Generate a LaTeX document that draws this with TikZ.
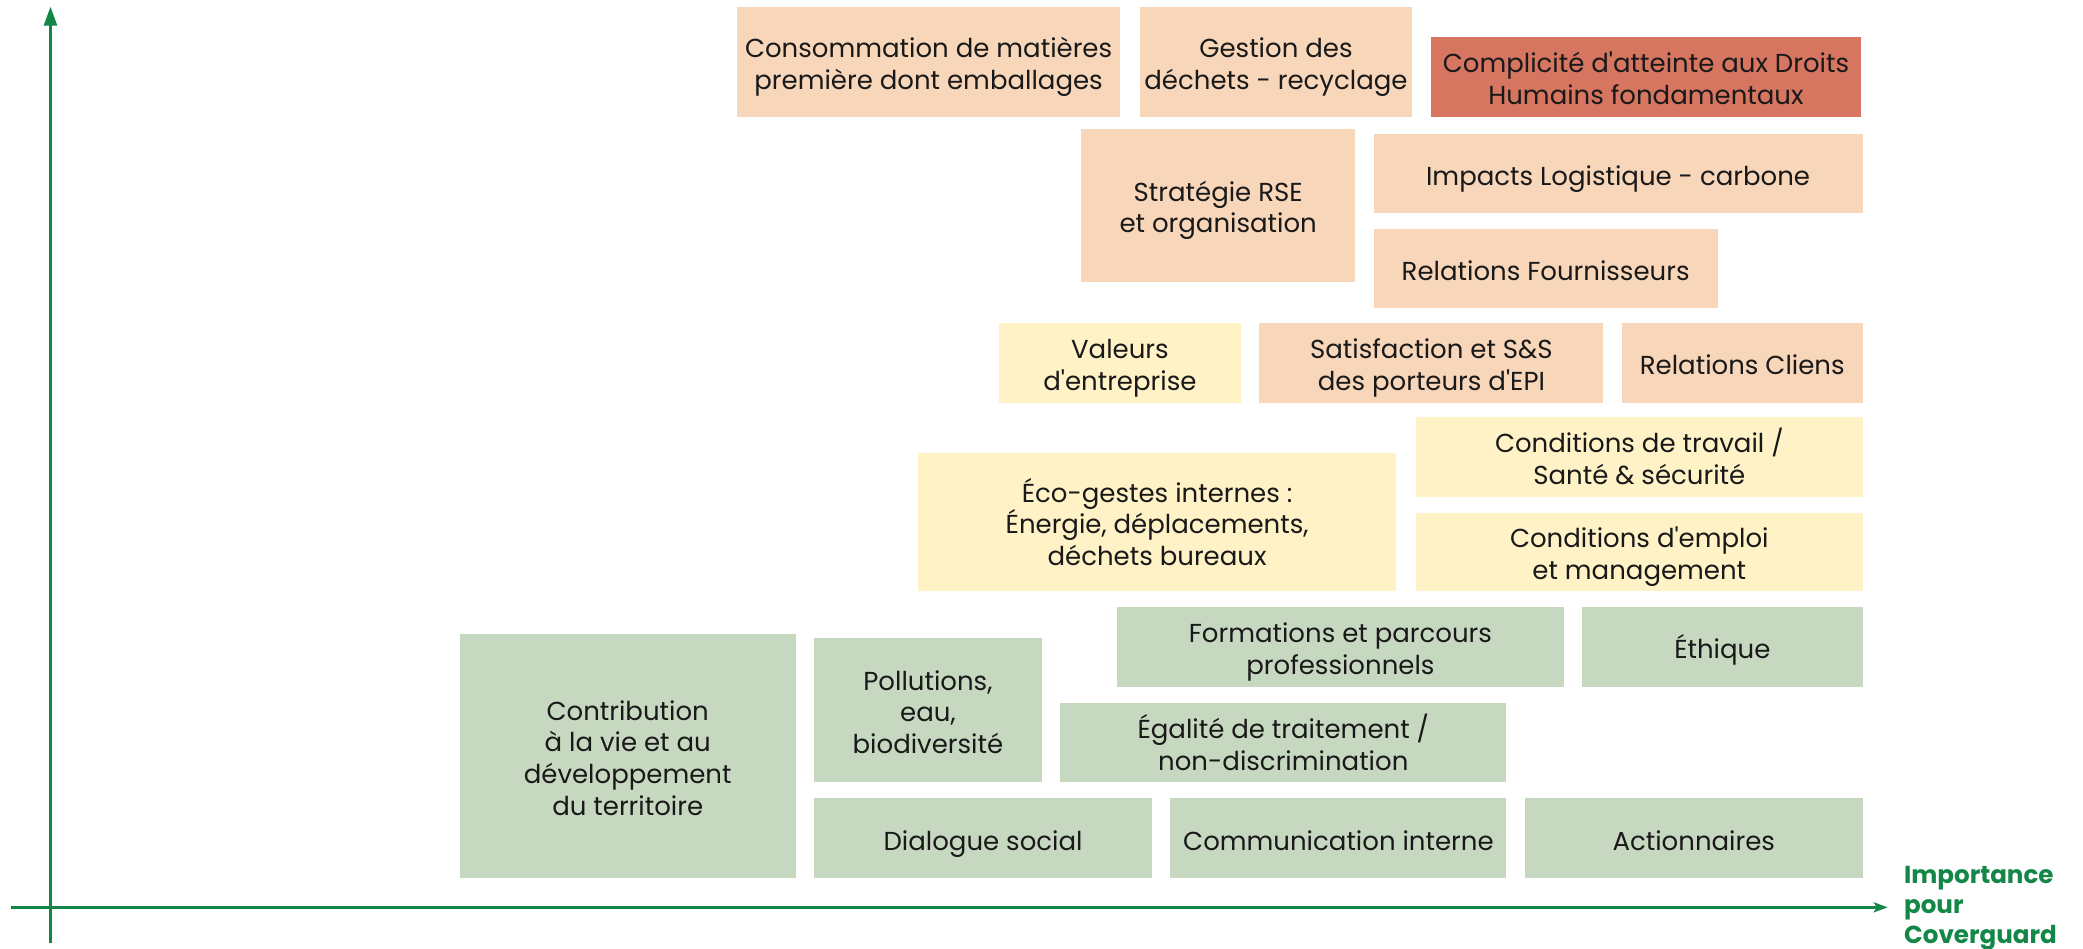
\documentclass[tikz,border=0pt]{standalone}
\usepackage{fontspec}
\setmainfont{Poppins}[Ligatures=TeXOff]
\usetikzlibrary{arrows.meta}
\definecolor{peach}{RGB}{248,214,186}
\definecolor{salmon}{RGB}{215,118,96}
\definecolor{cream}{RGB}{255,242,199}
\definecolor{sage}{RGB}{199,216,192}
\definecolor{axisgreen}{RGB}{19,135,72}
\tikzset{
  box/.style={inner sep=0pt, outer sep=0pt, draw=none, align=center,
    font=\fontsize{13}{15.9}\selectfont, text=black!90},
  axis/.style={draw=axisgreen, line width=1.35pt},
}
\newcommand\topstrut{\vrule width 0pt height 15.8pt depth 0pt\relax}
\newcommand\botstrut{\vrule width 0pt height 0pt depth 4pt\relax}
% #1 name, #2 x1, #3 y1, #4 x2, #5 y2, #6 colour, #7 text
\newcommand\mybox[7]{%
  \node[box, fill=#6, minimum width={(#4-#2)*0.6642pt}, minimum height={(#5-#3)*0.6642pt}]
    (#1) at ({(#2+#4)/2},{(#3+#5)/2}) {\topstrut #7\botstrut};}
\begin{document}
\begin{tikzpicture}[x=0.6642pt,y=-0.6642pt]
\useasboundingbox (0,0) rectangle (1568,714);
% boxes
\mybox{cons}{555}{5}{843}{88}{peach}{Consommation de matières\\première dont emballages}
\mybox{gest}{858}{5}{1063}{88}{peach}{Gestion des\\déchets - recyclage}
\mybox{comp}{1077}{28}{1401}{88}{salmon}{Complicité d'atteinte aux Droits\\Humains fondamentaux}
\mybox{rse}{814}{97}{1020}{212}{peach}{Stratégie RSE\\et organisation}
\mybox{log}{1034}{101}{1402}{160}{peach}{Impacts Logistique - carbone}
\mybox{four}{1034}{172}{1293}{232}{peach}{Relations Fournisseurs}
\mybox{val}{752}{243}{934}{303}{cream}{Valeurs\\d'entreprise}
\mybox{sat}{948}{243}{1207}{303}{peach}{Satisfaction et S\&S\\des porteurs d'EPI}
\mybox{cli}{1221}{243}{1402}{303}{peach}{Relations Cliens}
\mybox{trav}{1066}{314}{1402}{374}{cream}{Conditions de travail /\\Santé \& sécurité}
\mybox{eco}{691}{341}{1051}{445}{cream}{Éco-gestes internes :\\Énergie, déplacements,\\déchets bureaux}
\mybox{empl}{1066}{386}{1402}{445}{cream}{Conditions d'emploi\\et management}
\mybox{form}{841}{457}{1177}{517}{sage}{Formations et parcours\\professionnels}
\mybox{eth}{1191}{457}{1402}{517}{sage}{Éthique}
\mybox{contr}{346}{477}{599}{661}{sage}{Contribution\\à la vie et au\\développement\\du territoire}
\mybox{poll}{613}{480}{784}{589}{sage}{Pollutions,\\eau,\\biodiversité}
\mybox{egal}{798}{529}{1134}{589}{sage}{Égalité de traitement /\\non-discrimination}
\mybox{dial}{613}{601}{867}{661}{sage}{Dialogue social}
\mybox{comm}{881}{601}{1134}{661}{sage}{Communication interne}
\mybox{act}{1148}{601}{1402}{661}{sage}{Actionnaires}
% axes
\coordinate (ybot) at (38,710);
\coordinate (ytop) at (38,5);
\coordinate (xleft) at (8,683);
\coordinate (xright) at (1421,683);
\draw[axis, -{Triangle[length=9.5pt,width=6.5pt]}] (ybot) -- (ytop);
\draw[axis, -{Stealth[length=7pt,width=5pt,inset=1.5pt]}] (xleft) -- (xright);
\node[anchor=north west, inner sep=0pt, align=left, text=axisgreen,
  font=\fontsize{12.3}{15}\selectfont\bfseries] (lab) at (1433,652) {Importance\\pour\\Coverguard};
\end{tikzpicture}
\end{document}
